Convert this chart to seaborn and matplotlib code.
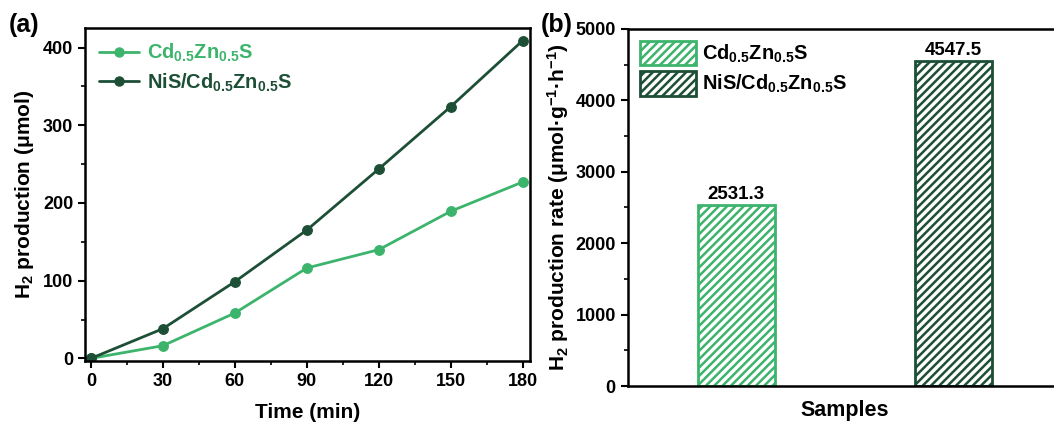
import numpy as np
import pandas as pd
import matplotlib
matplotlib.use("Agg")
import matplotlib.pyplot as plt
import seaborn as sns
from matplotlib.ticker import MultipleLocator
from matplotlib.patches import Patch
from matplotlib.lines import Line2D

# datos
time_min = [0, 30, 60, 90, 120, 150, 180]
h2_czs = [0, 16.3, 58.4, 116.3, 139.9, 189.3, 227]
h2_nis_czs = [0, 38.2, 98.7, 165.2, 243.8, 324, 409]
samples = ["Cd$_{0.5}$Zn$_{0.5}$S", "NiS/Cd$_{0.5}$Zn$_{0.5}$S"]
rates = [2531.3, 4547.5]
rate_labels = ["2531.3", "4547.5"]

light = "#3cb46c"
dark = "#1d4f36"
colors = [light, dark]

sns.set_theme(style="ticks")
plt.rcParams["font.family"] = ["Liberation Sans", "DejaVu Sans"]
plt.rcParams["font.weight"] = "bold"
plt.rcParams["axes.labelweight"] = "bold"
plt.rcParams["text.color"] = "black"
plt.rcParams["axes.labelcolor"] = "black"
plt.rcParams["mathtext.fontset"] = "custom"
plt.rcParams["mathtext.rm"] = "Liberation Sans:bold"
plt.rcParams["mathtext.bf"] = "Liberation Sans:bold"
plt.rcParams["mathtext.it"] = "Liberation Sans:bold"
plt.rcParams["mathtext.default"] = "bf"
plt.rcParams["hatch.linewidth"] = 1.8

fig = plt.figure(figsize=(10.54, 4.22), dpi=100)
ax1 = fig.add_axes([0.0806, 0.1434, 0.4222, 0.790])
ax2 = fig.add_axes([0.5955, 0.0853, 0.4121, 0.8462])

# (a) curvas
df = pd.DataFrame({
    "time": time_min * 2,
    "h2": h2_czs + h2_nis_czs,
    "sample": [samples[0]] * len(time_min) + [samples[1]] * len(time_min),
})
sns.lineplot(data=df, x="time", y="h2", hue="sample", palette=colors,
             marker="o", markersize=7, markeredgewidth=0.8, linewidth=2,
             ax=ax1, legend=False)
for line, c in zip(ax1.lines, colors):
    line.set_markeredgecolor(c)

ax1.set_xlim(-2.5, 183)
ax1.set_ylim(-4, 425)
ax1.set_xticks(time_min)
ax1.xaxis.set_minor_locator(MultipleLocator(15))
ax1.yaxis.set_major_locator(MultipleLocator(100))
ax1.yaxis.set_minor_locator(MultipleLocator(50))
ax1.set_xlabel("Time (min)", fontsize=15, labelpad=9)
ax1.set_ylabel("H$_2$ production (μmol)", fontsize=15, labelpad=5)
handles = [Line2D([], [], color=c, marker="o", markersize=6.5, linewidth=2) for c in colors]
leg = ax1.legend(handles, samples, loc="upper left", frameon=False, fontsize=14.4,
                 handlelength=2.0, handletextpad=0.4, borderaxespad=0.3,
                 labelspacing=0.35)
for t, c in zip(leg.get_texts(), colors):
    t.set_color(c)
fig.text(0.008, 0.925, "(a)", fontsize=18, fontweight="bold")

# (b) barras
dfb = pd.DataFrame({"sample": samples, "rate": rates})
sns.barplot(data=dfb, x="sample", y="rate", hue="sample", palette=colors,
            width=0.355, ax=ax2, legend=False)
for bar, c in zip(ax2.patches, colors):
    bar.set_facecolor("white")
    bar.set_edgecolor(c)
    bar.set_hatch("////")
    bar.set_linewidth(2)
for i, (v, lab) in enumerate(zip(rates, rate_labels)):
    ax2.text(i, v + 30, lab, ha="center", va="bottom", fontsize=13.5, fontweight="bold")
ax2.set_xlim(-0.5, 1.5)
ax2.set_ylim(0, 5000)
ax2.yaxis.set_major_locator(MultipleLocator(1000))
ax2.yaxis.set_minor_locator(MultipleLocator(500))
ax2.set_xticks([])
ax2.set_xlabel("Samples", fontsize=15.5, labelpad=10)
ax2.set_ylabel("H$_2$ production rate (μmol·g$^{-1}$·h$^{-1}$)", fontsize=15, labelpad=3)
hb = [Patch(facecolor="white", edgecolor=c, hatch="////", linewidth=2) for c in colors]
ax2.legend(hb, samples, loc="upper left", frameon=False, fontsize=14.4,
           handlelength=2.8, handleheight=1.5, handletextpad=0.3,
           borderaxespad=0.2, labelspacing=0.3)
fig.text(0.513, 0.925, "(b)", fontsize=18, fontweight="bold")

for ax in (ax1, ax2):
    for s in ax.spines.values():
        s.set_linewidth(1.8)
        s.set_color("black")
    ax.tick_params(axis="both", which="major", direction="out", length=5, width=1.5,
                   labelsize=13, colors="black")
    ax.tick_params(axis="both", which="minor", direction="out", length=3, width=1.2,
                   colors="black")
    for lab in ax.get_xticklabels() + ax.get_yticklabels():
        lab.set_fontweight("bold")

fig.savefig("out.png", dpi=100)
